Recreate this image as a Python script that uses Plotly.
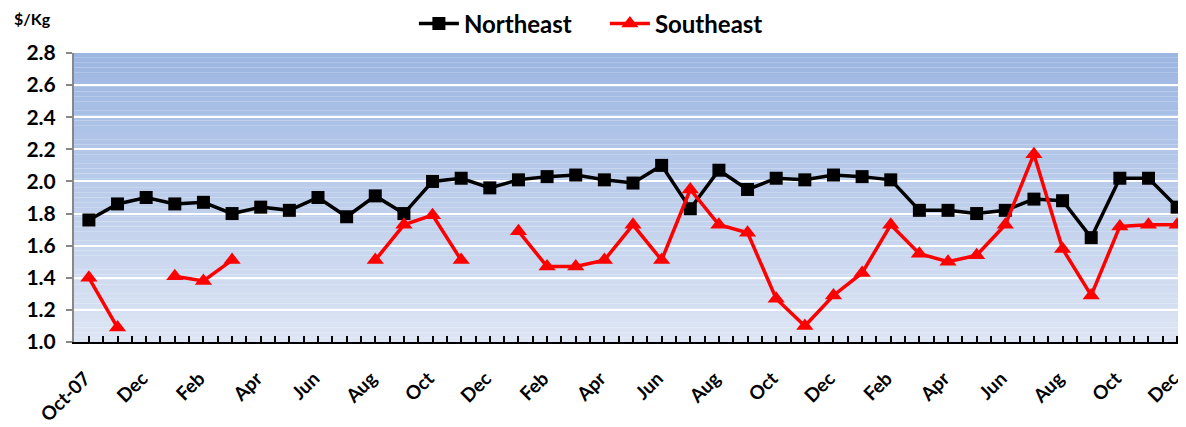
import plotly.graph_objects as go

months = ["Oct-07", "Nov", "Dec",
          "Jan", "Feb", "Mar", "Apr", "May", "Jun", "Jul", "Aug", "Sep", "Oct", "Nov", "Dec",
          "Jan", "Feb", "Mar", "Apr", "May", "Jun", "Jul", "Aug", "Sep", "Oct", "Nov", "Dec",
          "Jan", "Feb", "Mar", "Apr", "May", "Jun", "Jul", "Aug", "Sep", "Oct", "Nov", "Dec"]

northeast = [1.76, 1.86, 1.90,
             1.86, 1.87, 1.80, 1.84, 1.82, 1.90, 1.78, 1.91, 1.80, 2.00, 2.02, 1.96,
             2.01, 2.03, 2.04, 2.01, 1.99, 2.10, 1.83, 2.07, 1.95, 2.02, 2.01, 2.04,
             2.03, 2.01, 1.82, 1.82, 1.80, 1.82, 1.89, 1.88, 1.65, 2.02, 2.02, 1.84]

southeast = [1.40, 1.09, None,
             1.41, 1.38, 1.51, None, None, None, None, 1.51, 1.73, 1.79, 1.51, None,
             1.69, 1.47, 1.47, 1.51, 1.73, 1.51, 1.95, 1.73, 1.68, 1.27,
             1.10, 1.29, 1.43, 1.73, 1.55, 1.50, 1.54, 1.73, 2.17, 1.58, 1.29, 1.72, 1.73, 1.73]

y_ticks = [1.0, 1.2, 1.4, 1.6, 1.8, 2.0, 2.2, 2.4, 2.6, 2.8]

x = list(range(len(months)))
tick_idx = x[::2]
tick_text = [months[i] for i in tick_idx]

fig = go.Figure()

# gradient background bands
top = (156, 182, 226)
bot = (221, 229, 244)
n = 60
for i in range(n):
    t = i / (n - 1)
    c = tuple(int(round(top[k] + (bot[k] - top[k]) * t)) for k in range(3))
    fig.add_shape(type="rect", xref="x domain", yref="y domain",
                  x0=0, x1=1, y0=1 - (i + 1) / n, y1=1 - i / n,
                  fillcolor="rgb(%d,%d,%d)" % c, line=dict(width=0), layer="below")

fig.add_trace(go.Scatter(
    x=x, y=northeast, name="Northeast", mode="lines+markers",
    line=dict(color="black", width=3.5),
    marker=dict(symbol="square", size=13, color="black"),
    connectgaps=False))

fig.add_trace(go.Scatter(
    x=x, y=southeast, name="Southeast", mode="lines+markers",
    line=dict(color="#FF0000", width=3.5),
    marker=dict(symbol="triangle-up", size=15, color="#FF0000"),
    connectgaps=False))

font_family = "Lato, 'Open Sans', sans-serif"

# page body has an 8px default margin; figure sized so it ends at the window edge
fig.update_layout(
    width=1178, height=419,
    margin=dict(l=66, r=0, t=45, b=85, autoexpand=False),
    paper_bgcolor="white", plot_bgcolor="rgba(0,0,0,0)",
    font=dict(family=font_family, color="black"),
    showlegend=True,
    legend=dict(orientation="h", xref="container", x=0.5067, xanchor="center",
                y=0.962, yanchor="middle", yref="container",
                font=dict(size=24, family=font_family, weight="bold"),
                bgcolor="rgba(0,0,0,0)", itemwidth=40, traceorder="normal",
                entrywidth=136, entrywidthmode="pixels"),
    xaxis=dict(range=[-0.52, 38.31], tickmode="array", tickvals=tick_idx, ticktext=tick_text,
               tickangle=-45, tickfont=dict(size=19, weight="bold"), automargin=False,
               ticks="inside", ticklen=6, tickcolor="black", tickwidth=1.5,
               ticklabelshift=-4, ticklabelstandoff=16,
               minor=dict(tick0=-0.5, dtick=0.5, ticks="inside", ticklen=6,
                          tickcolor="black", tickwidth=1.5, showgrid=False),
               showgrid=False, zeroline=False, showline=True, linecolor="black", linewidth=2),
    yaxis=dict(range=[1.0, 2.8], tickvals=y_ticks, tickformat=".1f", automargin=False,
               tickfont=dict(size=21, weight="bold"), ticklabelstandoff=6,
               ticks="outside", ticklen=6, tickcolor="#888888", tickwidth=1.5,
               showgrid=True, gridcolor="white", gridwidth=2,
               zeroline=False, showline=True, linecolor="#888888", linewidth=2),
)

fig.add_annotation(text="$/Kg", xref="paper", yref="paper", x=-0.0557, y=1.121,
                   xanchor="left", yanchor="middle", showarrow=False,
                   font=dict(size=16, weight="bold", family=font_family))

fig.write_html("out.html")
